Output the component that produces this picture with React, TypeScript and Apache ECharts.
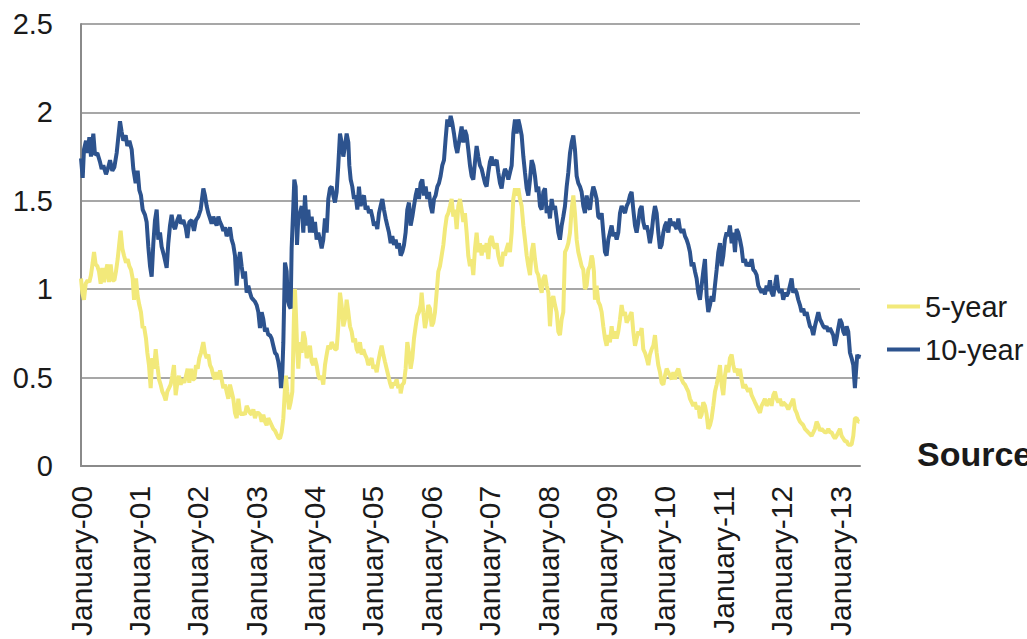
import React, { useEffect, useRef } from "react";
import * as echarts from "echarts";

// x = years since January 2000, y = value
const yearLabels = [
  "January-00", "January-01", "January-02", "January-03", "January-04", "January-05", "January-06",
  "January-07", "January-08", "January-09", "January-10", "January-11", "January-12", "January-13",
];
const seriesNames = ["5-year", "10-year"];
const seriesColors = ["#f2e97a", "#2d538e"];

const fiveYear: [number, number][] = [
  [0, 1.06], [0.023, 0.98], [0.051, 0.94], [0.08, 1.03], [0.114, 1.05], [0.143, 1.04], [0.171, 1.08], [0.2, 1.15], [0.223, 1.21], [0.251, 1.14], [0.28, 1.13], [0.308, 1.1], [0.337, 1.03], [0.365, 1.12], [0.394, 1.04], [0.422, 1.1], [0.451, 1.14], [0.479, 1.04], [0.508, 1.14], [0.537, 1.05], [0.571, 1.05], [0.599, 1.1], [0.628, 1.17], [0.656, 1.26], [0.679, 1.33], [0.708, 1.23], [0.736, 1.19], [0.771, 1.15], [0.799, 1.17], [0.828, 1.13], [0.856, 1.11], [0.885, 1.06], [0.908, 0.94], [0.942, 1.06], [0.97, 0.96], [0.999, 0.91], [1.027, 0.87], [1.056, 0.78], [1.079, 0.79], [1.113, 0.72], [1.136, 0.64], [1.164, 0.57], [1.193, 0.44], [1.221, 0.61], [1.25, 0.55], [1.279, 0.66], [1.307, 0.57], [1.336, 0.49], [1.364, 0.46], [1.393, 0.42], [1.421, 0.4], [1.45, 0.37], [1.478, 0.42], [1.507, 0.44], [1.535, 0.46], [1.564, 0.51], [1.592, 0.57], [1.621, 0.4], [1.65, 0.47], [1.678, 0.51], [1.707, 0.46], [1.735, 0.49], [1.769, 0.47], [1.798, 0.51], [1.826, 0.55], [1.855, 0.47], [1.884, 0.55], [1.912, 0.49], [1.941, 0.49], [1.969, 0.57], [1.998, 0.55], [2.026, 0.61], [2.055, 0.64],
  [2.095, 0.7], [2.123, 0.64], [2.152, 0.61], [2.18, 0.63], [2.209, 0.57], [2.237, 0.55], [2.266, 0.51], [2.295, 0.49], [2.323, 0.53], [2.352, 0.49], [2.38, 0.54], [2.409, 0.49], [2.437, 0.44], [2.466, 0.46], [2.494, 0.42], [2.523, 0.38], [2.551, 0.46], [2.58, 0.42], [2.608, 0.38], [2.637, 0.3], [2.666, 0.27], [2.694, 0.38], [2.723, 0.3], [2.751, 0.29], [2.78, 0.3], [2.808, 0.29], [2.837, 0.34], [2.865, 0.32], [2.894, 0.3], [2.922, 0.29], [2.951, 0.32], [2.979, 0.27], [3.008, 0.3], [3.037, 0.3], [3.065, 0.29], [3.094, 0.25], [3.122, 0.29], [3.151, 0.25], [3.179, 0.23], [3.208, 0.27], [3.236, 0.25], [3.265, 0.23], [3.293, 0.21], [3.322, 0.2], [3.35, 0.18], [3.379, 0.16], [3.408, 0.155], [3.436, 0.19], [3.465, 0.27], [3.493, 0.44], [3.51, 0.51], [3.533, 0.42], [3.562, 0.32], [3.59, 0.36], [3.619, 0.42], [3.647, 0.85], [3.664, 1.0], [3.682, 0.85], [3.704, 0.64], [3.721, 0.55], [3.75, 0.7], [3.779, 0.64], [3.807, 0.76], [3.836, 0.72], [3.864, 0.61], [3.893, 0.64], [3.921, 0.68], [3.95, 0.59], [3.978, 0.57], [4.007, 0.61], [4.035, 0.57], [4.064, 0.51], [4.092, 0.49], [4.121, 0.51], [4.149, 0.46], [4.178, 0.57], [4.207, 0.63], [4.235, 0.68], [4.264, 0.66], [4.292, 0.7], [4.321, 0.68], [4.349, 0.66],
  [4.378, 0.66], [4.406, 0.79], [4.435, 0.98], [4.463, 0.91], [4.492, 0.79], [4.521, 0.83], [4.549, 0.94], [4.578, 0.87], [4.606, 0.79], [4.635, 0.76], [4.663, 0.7], [4.692, 0.72], [4.72, 0.66], [4.749, 0.64], [4.777, 0.7], [4.806, 0.63], [4.834, 0.66], [4.863, 0.63], [4.892, 0.61], [4.92, 0.57], [4.949, 0.59], [4.977, 0.61], [5.006, 0.55], [5.034, 0.57], [5.063, 0.53], [5.091, 0.59], [5.12, 0.64], [5.148, 0.68], [5.177, 0.63], [5.205, 0.59], [5.234, 0.55], [5.263, 0.51], [5.291, 0.47], [5.32, 0.44], [5.348, 0.47], [5.377, 0.46], [5.405, 0.49], [5.434, 0.44], [5.462, 0.46], [5.474, 0.41], [5.502, 0.46], [5.531, 0.47], [5.559, 0.55], [5.588, 0.7], [5.616, 0.64], [5.645, 0.55], [5.674, 0.61], [5.702, 0.72], [5.731, 0.79], [5.759, 0.85], [5.788, 0.87], [5.816, 0.91], [5.833, 0.98], [5.862, 0.87], [5.89, 0.78], [5.919, 0.83], [5.947, 0.91], [5.976, 0.89], [6.005, 0.79], [6.033, 0.81], [6.062, 0.87], [6.09, 0.98], [6.119, 1.1], [6.147, 1.13], [6.176, 1.19], [6.205, 1.25], [6.233, 1.34], [6.262, 1.41], [6.29, 1.43], [6.319, 1.47], [6.347, 1.51], [6.376, 1.41], [6.404, 1.45], [6.433, 1.34], [6.461, 1.47],
  [6.49, 1.51], [6.518, 1.45], [6.547, 1.38], [6.575, 1.43], [6.604, 1.32], [6.632, 1.19], [6.661, 1.13], [6.689, 1.17], [6.718, 1.08], [6.747, 1.23], [6.775, 1.32], [6.804, 1.21], [6.832, 1.26], [6.861, 1.19], [6.889, 1.25], [6.918, 1.21], [6.946, 1.26], [6.975, 1.17], [7.003, 1.28], [7.032, 1.3], [7.061, 1.25], [7.089, 1.23], [7.118, 1.26], [7.146, 1.19], [7.175, 1.15], [7.203, 1.13], [7.232, 1.21], [7.26, 1.19], [7.289, 1.23], [7.318, 1.26], [7.346, 1.21], [7.375, 1.32], [7.403, 1.51], [7.432, 1.57], [7.46, 1.53], [7.489, 1.57], [7.517, 1.51], [7.546, 1.47], [7.575, 1.36], [7.603, 1.28], [7.632, 1.19], [7.66, 1.13], [7.689, 1.08], [7.717, 1.21], [7.746, 1.26], [7.774, 1.17], [7.803, 1.1], [7.831, 1.08], [7.86, 1.02], [7.889, 0.98], [7.917, 1.06], [7.946, 1.08], [7.974, 1.02], [8.003, 0.98], [8.031, 0.79], [8.06, 0.94], [8.088, 0.96], [8.117, 0.91], [8.145, 0.87], [8.174, 0.76], [8.202, 0.74], [8.231, 0.83], [8.259, 0.87], [8.288, 1.21], [8.317, 1.23], [8.345, 1.26], [8.374, 1.32], [8.402, 1.45], [8.431, 1.53], [8.459, 1.43], [8.488, 1.28], [8.516, 1.21], [8.545, 1.17], [8.573, 1.13], [8.602, 1.11], [8.63, 1.0], [8.659, 1.02], [8.687, 1.11],
  [8.716, 1.13], [8.744, 1.19], [8.761, 1.17], [8.784, 1.1], [8.801, 0.94], [8.83, 1.02], [8.858, 0.93], [8.887, 0.91], [8.916, 0.87], [8.944, 0.79], [8.973, 0.72], [9.001, 0.68], [9.03, 0.74], [9.058, 0.7], [9.087, 0.79], [9.115, 0.72], [9.144, 0.76], [9.173, 0.72], [9.201, 0.76], [9.23, 0.83], [9.258, 0.91], [9.287, 0.85], [9.315, 0.87], [9.344, 0.81], [9.372, 0.83], [9.401, 0.85], [9.429, 0.87], [9.458, 0.76], [9.487, 0.68], [9.515, 0.72], [9.544, 0.76], [9.572, 0.74], [9.601, 0.78], [9.629, 0.66], [9.658, 0.64], [9.686, 0.61], [9.715, 0.57], [9.743, 0.63], [9.772, 0.66], [9.801, 0.68], [9.829, 0.74], [9.858, 0.64], [9.886, 0.57], [9.915, 0.53], [9.943, 0.47], [9.972, 0.46], [10.0, 0.51], [10.029, 0.55], [10.057, 0.53], [10.086, 0.51], [10.114, 0.49], [10.143, 0.53], [10.171, 0.49], [10.2, 0.53], [10.229, 0.55], [10.257, 0.51], [10.286, 0.49], [10.314, 0.47], [10.343, 0.46], [10.371, 0.44], [10.4, 0.42], [10.428, 0.38], [10.457, 0.36], [10.485, 0.34], [10.514, 0.36], [10.542, 0.32], [10.571, 0.34], [10.599, 0.27], [10.628, 0.29], [10.656, 0.36], [10.685, 0.34], [10.714, 0.29], [10.742, 0.21], [10.771, 0.23], [10.799, 0.27], [10.828, 0.34], [10.856, 0.42], [10.885, 0.46], [10.914, 0.51],
  [10.942, 0.57], [10.97, 0.46], [10.999, 0.4], [11.027, 0.51], [11.056, 0.57], [11.084, 0.53], [11.113, 0.61], [11.142, 0.63], [11.17, 0.57], [11.199, 0.53], [11.227, 0.55], [11.256, 0.51], [11.284, 0.55], [11.313, 0.49], [11.341, 0.44], [11.37, 0.46], [11.398, 0.44], [11.427, 0.42], [11.455, 0.44], [11.484, 0.4], [11.513, 0.38], [11.541, 0.36], [11.57, 0.34], [11.598, 0.32], [11.627, 0.3], [11.655, 0.34], [11.684, 0.36], [11.712, 0.38], [11.741, 0.34], [11.769, 0.36], [11.798, 0.38], [11.826, 0.34], [11.855, 0.4], [11.884, 0.42], [11.912, 0.38], [11.941, 0.36], [11.969, 0.38], [11.998, 0.34], [12.026, 0.36], [12.055, 0.35], [12.083, 0.34], [12.112, 0.32], [12.14, 0.34], [12.169, 0.36], [12.197, 0.38], [12.226, 0.32], [12.255, 0.3], [12.283, 0.27], [12.312, 0.25], [12.34, 0.24], [12.369, 0.23], [12.397, 0.21], [12.426, 0.2], [12.454, 0.19], [12.483, 0.18], [12.511, 0.17], [12.54, 0.19], [12.568, 0.21], [12.597, 0.25], [12.626, 0.23], [12.654, 0.2], [12.683, 0.21], [12.711, 0.2], [12.74, 0.19], [12.768, 0.19], [12.797, 0.21], [12.825, 0.19], [12.854, 0.19], [12.882, 0.17], [12.911, 0.155], [12.939, 0.17], [12.968, 0.19], [12.997, 0.21], [13.025, 0.17], [13.054, 0.155], [13.082, 0.14], [13.111, 0.14], [13.139, 0.12], [13.168, 0.12], [13.196, 0.12], [13.225, 0.17], [13.253, 0.27], [13.282, 0.27], [13.311, 0.25], [13.328, 0.25],
];

const tenYear: [number, number][] = [
  [0, 1.74], [0.029, 1.63], [0.051, 1.79], [0.086, 1.84], [0.114, 1.77], [0.143, 1.86], [0.171, 1.75], [0.211, 1.88], [0.24, 1.76], [0.28, 1.77], [0.325, 1.72], [0.354, 1.68], [0.382, 1.7], [0.428, 1.65], [0.468, 1.69], [0.497, 1.73], [0.536, 1.67], [0.571, 1.69], [0.611, 1.77], [0.639, 1.86], [0.668, 1.95], [0.696, 1.89], [0.725, 1.84], [0.765, 1.87], [0.793, 1.81], [0.828, 1.84], [0.868, 1.79], [0.896, 1.68], [0.936, 1.6], [0.97, 1.67], [0.999, 1.56], [1.027, 1.53], [1.056, 1.45], [1.096, 1.42], [1.124, 1.38], [1.153, 1.24], [1.182, 1.13], [1.21, 1.07], [1.239, 1.26], [1.267, 1.39], [1.296, 1.45], [1.324, 1.28], [1.353, 1.32], [1.381, 1.24], [1.421, 1.19], [1.467, 1.12], [1.495, 1.26], [1.524, 1.36], [1.552, 1.42], [1.581, 1.36], [1.61, 1.34], [1.649, 1.39], [1.684, 1.42], [1.712, 1.37], [1.752, 1.39], [1.792, 1.35], [1.821, 1.29], [1.855, 1.38], [1.895, 1.39], [1.935, 1.33], [1.969, 1.39], [2.009, 1.41], [2.049, 1.45],
  [2.095, 1.57], [2.123, 1.53], [2.152, 1.47], [2.18, 1.43], [2.209, 1.4], [2.237, 1.37], [2.266, 1.41], [2.295, 1.38], [2.323, 1.36], [2.352, 1.41], [2.38, 1.38], [2.409, 1.36], [2.437, 1.33], [2.466, 1.35], [2.494, 1.3], [2.523, 1.32], [2.551, 1.35], [2.58, 1.28], [2.608, 1.25], [2.637, 1.19], [2.666, 1.02], [2.694, 1.15], [2.723, 1.21], [2.751, 1.13], [2.78, 1.06], [2.808, 1.1], [2.837, 0.98], [2.865, 1.02], [2.894, 0.98], [2.922, 0.95], [2.951, 0.94], [2.979, 0.93], [3.008, 0.91], [3.037, 0.87], [3.065, 0.78], [3.094, 0.87], [3.122, 0.83], [3.151, 0.76], [3.179, 0.78], [3.208, 0.74], [3.236, 0.74], [3.265, 0.72], [3.293, 0.68], [3.322, 0.64], [3.35, 0.63], [3.379, 0.59], [3.408, 0.53], [3.425, 0.44], [3.448, 0.53], [3.465, 0.7], [3.493, 1.15], [3.522, 1.1], [3.539, 0.94], [3.562, 0.91], [3.59, 0.89], [3.607, 1.23], [3.636, 1.47], [3.653, 1.62], [3.676, 1.58], [3.699, 1.25], [3.721, 1.4], [3.75, 1.43], [3.779, 1.47], [3.807, 1.32], [3.836, 1.53], [3.864, 1.36], [3.893, 1.45], [3.921, 1.32], [3.95, 1.41], [3.978, 1.32], [4.007, 1.38], [4.035, 1.28], [4.064, 1.32], [4.092, 1.28], [4.121, 1.23], [4.149, 1.28], [4.178, 1.4], [4.207, 1.32], [4.235, 1.51], [4.264, 1.57], [4.292, 1.58], [4.321, 1.53], [4.349, 1.49],
  [4.378, 1.55], [4.406, 1.7], [4.435, 1.88], [4.463, 1.83], [4.492, 1.75], [4.521, 1.81], [4.549, 1.88], [4.578, 1.83], [4.595, 1.7], [4.618, 1.62], [4.646, 1.58], [4.675, 1.51], [4.703, 1.53], [4.732, 1.45], [4.76, 1.58], [4.789, 1.47], [4.817, 1.51], [4.846, 1.53], [4.874, 1.45], [4.903, 1.47], [4.932, 1.43], [4.96, 1.45], [4.989, 1.41], [5.017, 1.36], [5.046, 1.38], [5.074, 1.34], [5.103, 1.43], [5.131, 1.47], [5.16, 1.51], [5.188, 1.45], [5.217, 1.4], [5.245, 1.36], [5.274, 1.32], [5.303, 1.26], [5.331, 1.3], [5.36, 1.25], [5.388, 1.28], [5.417, 1.23], [5.445, 1.26], [5.474, 1.19], [5.502, 1.21], [5.531, 1.25], [5.559, 1.32], [5.588, 1.45], [5.616, 1.49], [5.645, 1.36], [5.674, 1.41], [5.702, 1.47], [5.731, 1.53], [5.759, 1.57], [5.788, 1.51], [5.816, 1.6], [5.845, 1.62], [5.873, 1.53], [5.902, 1.58], [5.93, 1.51], [5.959, 1.55], [5.987, 1.47], [6.016, 1.43], [6.045, 1.51], [6.073, 1.53], [6.102, 1.58], [6.13, 1.6], [6.158, 1.64], [6.187, 1.7], [6.216, 1.73], [6.244, 1.85], [6.273, 1.96], [6.301, 1.92], [6.33, 1.98], [6.358, 1.94], [6.387, 1.88], [6.416, 1.81], [6.444, 1.77], [6.473, 1.83],
  [6.518, 1.92], [6.547, 1.83], [6.575, 1.9], [6.604, 1.87], [6.632, 1.79], [6.661, 1.7], [6.689, 1.64], [6.718, 1.62], [6.747, 1.72], [6.775, 1.81], [6.804, 1.75], [6.832, 1.7], [6.861, 1.68], [6.889, 1.64], [6.918, 1.6], [6.946, 1.58], [6.975, 1.66], [7.003, 1.72], [7.032, 1.75], [7.061, 1.7], [7.089, 1.72], [7.118, 1.73], [7.146, 1.66], [7.175, 1.6], [7.203, 1.57], [7.232, 1.64], [7.26, 1.68], [7.289, 1.66], [7.318, 1.62], [7.346, 1.66], [7.375, 1.7], [7.403, 1.88], [7.432, 1.96], [7.46, 1.88], [7.489, 1.96], [7.517, 1.92], [7.546, 1.87], [7.575, 1.75], [7.603, 1.66], [7.632, 1.57], [7.66, 1.53], [7.689, 1.62], [7.717, 1.73], [7.746, 1.7], [7.774, 1.64], [7.803, 1.55], [7.831, 1.58], [7.86, 1.47], [7.889, 1.45], [7.917, 1.55], [7.946, 1.57], [7.974, 1.43], [8.003, 1.47], [8.031, 1.4], [8.06, 1.51], [8.088, 1.45], [8.117, 1.47], [8.145, 1.4], [8.174, 1.32], [8.202, 1.28], [8.231, 1.36], [8.259, 1.41], [8.288, 1.47], [8.317, 1.58], [8.345, 1.66], [8.374, 1.77], [8.402, 1.83], [8.431, 1.87], [8.459, 1.79], [8.488, 1.64], [8.516, 1.6], [8.545, 1.58], [8.573, 1.55], [8.602, 1.47], [8.63, 1.43], [8.659, 1.53], [8.687, 1.47],
  [8.716, 1.45], [8.744, 1.53], [8.773, 1.58], [8.801, 1.55], [8.83, 1.51], [8.858, 1.41], [8.887, 1.4], [8.916, 1.43], [8.944, 1.32], [8.973, 1.21], [9.001, 1.19], [9.03, 1.28], [9.058, 1.32], [9.087, 1.36], [9.115, 1.3], [9.144, 1.32], [9.173, 1.28], [9.201, 1.32], [9.23, 1.43], [9.258, 1.47], [9.287, 1.45], [9.315, 1.43], [9.344, 1.47], [9.372, 1.49], [9.401, 1.53], [9.429, 1.55], [9.458, 1.45], [9.487, 1.36], [9.515, 1.32], [9.544, 1.38], [9.572, 1.45], [9.601, 1.47], [9.629, 1.38], [9.658, 1.34], [9.686, 1.36], [9.715, 1.32], [9.743, 1.26], [9.772, 1.32], [9.801, 1.41], [9.829, 1.47], [9.858, 1.43], [9.886, 1.32], [9.915, 1.23], [9.943, 1.25], [9.972, 1.32], [10.0, 1.36], [10.029, 1.38], [10.057, 1.32], [10.086, 1.4], [10.114, 1.36], [10.143, 1.38], [10.171, 1.36], [10.2, 1.34], [10.229, 1.4], [10.257, 1.34], [10.286, 1.32], [10.314, 1.34], [10.343, 1.3], [10.371, 1.28], [10.4, 1.25], [10.428, 1.21], [10.457, 1.13], [10.485, 1.15], [10.514, 1.1], [10.542, 1.06], [10.571, 0.98], [10.599, 0.94], [10.628, 1.02], [10.656, 1.1], [10.685, 1.17], [10.714, 0.96], [10.742, 0.87], [10.771, 0.91], [10.799, 0.96], [10.828, 0.93], [10.856, 1.02], [10.885, 1.11], [10.914, 1.21],
  [10.942, 1.26], [10.97, 1.13], [10.999, 1.19], [11.027, 1.28], [11.056, 1.32], [11.084, 1.3], [11.113, 1.36], [11.142, 1.26], [11.17, 1.32], [11.199, 1.21], [11.227, 1.34], [11.256, 1.32], [11.284, 1.28], [11.313, 1.23], [11.341, 1.15], [11.37, 1.17], [11.398, 1.13], [11.427, 1.15], [11.455, 1.13], [11.484, 1.17], [11.513, 1.11], [11.541, 1.1], [11.57, 1.08], [11.598, 1.02], [11.627, 1.0], [11.655, 0.98], [11.684, 1.0], [11.712, 0.97], [11.741, 1.02], [11.769, 0.99], [11.798, 1.05], [11.826, 0.98], [11.855, 0.96], [11.884, 1.02], [11.912, 1.08], [11.941, 1.0], [11.969, 0.98], [11.998, 1.0], [12.026, 0.94], [12.055, 0.98], [12.083, 0.96], [12.112, 0.98], [12.14, 1.02], [12.169, 1.06], [12.197, 0.98], [12.226, 1.0], [12.255, 0.98], [12.283, 0.94], [12.312, 0.91], [12.34, 0.87], [12.369, 0.89], [12.397, 0.85], [12.426, 0.87], [12.454, 0.83], [12.483, 0.79], [12.511, 0.78], [12.54, 0.74], [12.568, 0.79], [12.597, 0.83], [12.626, 0.87], [12.654, 0.83], [12.683, 0.81], [12.711, 0.79], [12.74, 0.78], [12.768, 0.79], [12.797, 0.76], [12.825, 0.78], [12.854, 0.76], [12.882, 0.74], [12.911, 0.68], [12.939, 0.72], [12.968, 0.78], [12.997, 0.83], [13.025, 0.81], [13.054, 0.76], [13.082, 0.74], [13.111, 0.79], [13.139, 0.76], [13.168, 0.64], [13.196, 0.61], [13.225, 0.57], [13.253, 0.44], [13.271, 0.53], [13.293, 0.63], [13.311, 0.61], [13.328, 0.63],
];

const FONT = "'Liberation Sans', Arial, Helvetica, sans-serif";

export default function App() {
  const ref = useRef<HTMLDivElement>(null);
  useEffect(() => {
    if (!ref.current) return;
    const chart = echarts.init(ref.current, null, { renderer: "svg" });
    chart.setOption({
      animation: false,
      backgroundColor: "#ffffff",
      textStyle: { fontFamily: FONT },
      grid: { left: 81, right: 167, top: 24, bottom: 172, containLabel: false },
      xAxis: {
        type: "value",
        min: 0,
        max: 13.34,
        interval: 1,
        axisLine: { show: true, lineStyle: { color: "#8a8a8a", width: 2 } },
        axisTick: { show: false },
        splitLine: { show: false },
        axisLabel: {
          rotate: 90,
          margin: 20,
          fontSize: 30,
          color: "#1a1a1a",
          fontFamily: FONT,
          showMaxLabel: false,
          formatter: (v: number) => {
            const i = Math.round(v);
            if (Math.abs(v - i) > 0.01) return "";
            return yearLabels[i] ?? "";
          },
        },
      },
      yAxis: {
        type: "value",
        min: 0,
        max: 2.5,
        interval: 0.5,
        axisLine: { show: true, lineStyle: { color: "#8a8a8a", width: 2 } },
        axisTick: { show: false },
        splitLine: { show: true, lineStyle: { color: "#8a8a8a", width: 1.5 } },
        axisLabel: { margin: 28, fontSize: 29, color: "#1a1a1a", fontFamily: FONT },
      },
      legend: {
        orient: "vertical",
        left: 882,
        top: 287,
        itemWidth: 33,
        itemHeight: 4,
        itemGap: 14,
        icon: "rect",
        textStyle: { fontSize: 29, color: "#1a1a1a", fontFamily: FONT },
        data: seriesNames,
      },
      graphic: [
        {
          type: "text",
          x: 917,
          y: 454,
          style: {
            text: "Source",
            fontSize: 34,
            fontWeight: "bold",
            fontFamily: FONT,
            fill: "#1a1a1a",
            verticalAlign: "middle",
          },
        },
      ],
      series: [
        {
          name: seriesNames[0],
          type: "line",
          data: fiveYear,
          showSymbol: false,
          symbol: "none",
          lineStyle: { color: seriesColors[0], width: 4 },
          itemStyle: { color: seriesColors[0] },
        },
        {
          name: seriesNames[1],
          type: "line",
          data: tenYear,
          showSymbol: false,
          symbol: "none",
          lineStyle: { color: seriesColors[1], width: 4 },
          itemStyle: { color: seriesColors[1] },
        },
      ],
    });
    return () => chart.dispose();
  }, []);
  return (
    <div
      ref={ref}
      style={{ position: "fixed", left: 0, top: 0, width: 1027, height: 639 }}
    />
  );
}
